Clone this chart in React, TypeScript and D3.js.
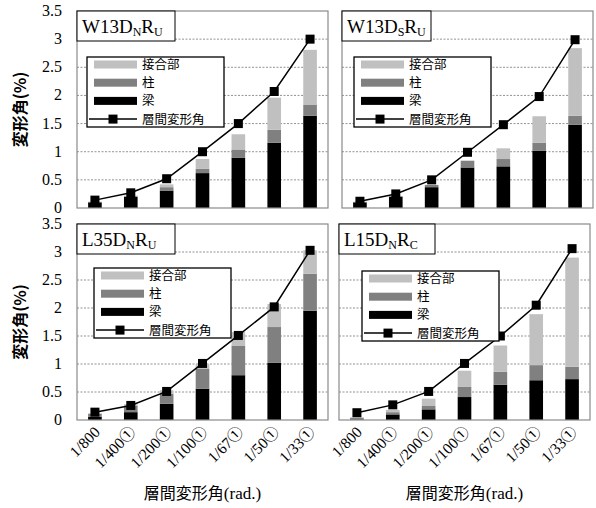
import React from "react";
import * as d3 from "d3";

const categories = ["1/800", "1/400①", "1/200①", "1/100①", "1/67①", "1/50①", "1/33①"];
const yTicks = [0, 0.5, 1, 1.5, 2, 2.5, 3, 3.5];
const seriesNames = ["梁", "柱", "接合部"];
const lineName = "層間変形角";

// W13DNRU
const p1Beam = [0.1, 0.2, 0.31, 0.62, 0.89, 1.16, 1.64];
const p1Col = [0.01, 0.01, 0.06, 0.08, 0.15, 0.23, 0.19];
const p1Joint = [0.0, 0.01, 0.05, 0.17, 0.27, 0.57, 0.98];
const p1Drift = [0.14, 0.27, 0.52, 1.0, 1.5, 2.07, 3.0];

// W13DSRU
const p2Beam = [0.1, 0.2, 0.37, 0.72, 0.74, 1.02, 1.48];
const p2Col = [0.01, 0.01, 0.04, 0.12, 0.13, 0.14, 0.16];
const p2Joint = [0.0, 0.0, 0.0, 0.0, 0.19, 0.47, 1.2];
const p2Drift = [0.12, 0.25, 0.5, 0.99, 1.48, 1.98, 2.99];

// L35DNRU
const p3Beam = [0.06, 0.14, 0.29, 0.56, 0.8, 1.02, 1.95];
const p3Col = [0.05, 0.12, 0.18, 0.36, 0.53, 0.64, 0.66];
const p3Joint = [0.01, 0.02, 0.06, 0.08, 0.24, 0.41, 0.42];
const p3Drift = [0.14, 0.26, 0.51, 1.01, 1.51, 2.02, 3.03];

// L15DNRC
const p4Beam = [0.01, 0.1, 0.19, 0.41, 0.63, 0.71, 0.73];
const p4Col = [0.03, 0.04, 0.06, 0.18, 0.23, 0.27, 0.22];
const p4Joint = [0.01, 0.04, 0.13, 0.29, 0.47, 0.91, 1.95];
const p4Drift = [0.13, 0.27, 0.51, 1.01, 1.5, 2.05, 3.06];

const colors = ["#000000", "#808080", "#c0c0c0"];
const SERIF = "'Liberation Serif', 'Times New Roman', 'Noto Sans CJK JP', serif";
const CJK = "'Noto Sans CJK JP', 'Liberation Serif', sans-serif";

type Panel = {
  main: string;
  sub1: string;
  mid: string;
  sub2: string;
  beam: number[];
  col: number[];
  joint: number[];
  drift: number[];
  x0: number;
  x1: number;
  y0: number;
  y1: number;
  titleW: number;
  legX: number;
  legY: number;
  left: boolean;
  bottom: boolean;
};

const panels: Panel[] = [
  { main: "W13D", sub1: "N", mid: "R", sub2: "U", beam: p1Beam, col: p1Col, joint: p1Joint, drift: p1Drift,
    x0: 77, x1: 328, y0: 11, y1: 208, titleW: 98, legX: 87, legY: 57, left: true, bottom: false },
  { main: "W13D", sub1: "S", mid: "R", sub2: "U", beam: p2Beam, col: p2Col, joint: p2Joint, drift: p2Drift,
    x0: 342, x1: 593, y0: 11, y1: 208, titleW: 89, legX: 354, legY: 57, left: false, bottom: false },
  { main: "L35D", sub1: "N", mid: "R", sub2: "U", beam: p3Beam, col: p3Col, joint: p3Joint, drift: p3Drift,
    x0: 77, x1: 328, y0: 224, y1: 420, titleW: 98, legX: 94, legY: 268, left: true, bottom: true },
  { main: "L15D", sub1: "N", mid: "R", sub2: "C", beam: p4Beam, col: p4Col, joint: p4Joint, drift: p4Drift,
    x0: 339, x1: 590, y0: 224, y1: 420, titleW: 96, legX: 362, legY: 271, left: false, bottom: true },
];

function PanelView({ p }: { p: Panel }) {
  const x = d3.scaleBand<string>().domain(categories).range([p.x0, p.x1]).paddingInner(0.62).paddingOuter(0.31);
  const y = d3.scaleLinear().domain([0, 3.5]).range([p.y1, p.y0]);
  const rows = categories.map((c, i) => ({ cat: c, beam: p.beam[i], col: p.col[i], joint: p.joint[i] }));
  const stack = d3.stack<any>().keys(["beam", "col", "joint"])(rows);
  const cx = (c: string) => (x(c) as number) + x.bandwidth() / 2;
  const line = d3.line<number>().x((_, i) => cx(categories[i])).y((d) => y(d));
  const ms = 9;
  const lx = p.legX;
  const ly = p.legY;
  const rowY = [ly + 7.5, ly + 25.7, ly + 43.9, ly + 62.1];
  return (
    <g>
      {yTicks.filter((t) => t > 0 && t < 3.5).map((t) => (
        <line key={t} x1={p.x0} x2={p.x1} y1={y(t)} y2={y(t)} stroke="#777" strokeWidth={0.8} strokeDasharray="2,1.5" />
      ))}
      {stack.map((s, si) => (
        <g key={si} fill={colors[si]}>
          {s.map((d, i) => (
            <rect key={i} x={x(categories[i])} width={x.bandwidth()} y={y(d[1])} height={Math.max(0, y(d[0]) - y(d[1]))} />
          ))}
        </g>
      ))}
      <rect x={p.x0} y={p.y0} width={p.x1 - p.x0} height={p.y1 - p.y0} fill="none" stroke="#8a8a8a" strokeWidth={1.2} />
      <path d={line(p.drift) || ""} fill="none" stroke="#000" strokeWidth={1.5} />
      {p.drift.map((v, i) => (
        <rect key={i} x={cx(categories[i]) - ms / 2} y={y(v) - ms / 2} width={ms} height={ms} fill="#000" />
      ))}
      <rect x={p.x0} y={p.y0} width={p.titleW} height={30} fill="#fff" stroke="#000" strokeWidth={1} />
      <text x={p.x0 + 5} y={p.y0 + 22} fontFamily={SERIF} fontSize={19}>
        {p.main}
        <tspan fontSize={12} dy={3}>{p.sub1}</tspan>
        <tspan dy={-3}>{p.mid}</tspan>
        <tspan fontSize={12} dy={3}>{p.sub2}</tspan>
      </text>
      <rect x={lx} y={ly} width={137} height={70} fill="#fff" stroke="#000" strokeWidth={1.3} />
      {[2, 1, 0].map((si, k) => (
        <g key={si}>
          <rect x={lx + 7} y={rowY[k] - 4} width={43} height={8} fill={colors[si]} />
          <text x={lx + 55} y={rowY[k] + 4.5} fontFamily={CJK} fontSize={12.5}>{seriesNames[si]}</text>
        </g>
      ))}
      <line x1={lx + 2} x2={lx + 50} y1={rowY[3]} y2={rowY[3]} stroke="#000" strokeWidth={1.5} />
      <rect x={lx + 26 - ms / 2} y={rowY[3] - ms / 2} width={ms} height={ms} fill="#000" />
      <text x={lx + 55} y={rowY[3] + 4.5} fontFamily={CJK} fontSize={12.5}>{lineName}</text>
      {p.left && yTicks.map((t) => (
        <text key={t} x={62} y={y(t) + 5} textAnchor="end" fontFamily={SERIF} fontSize={16}>{t}</text>
      ))}
      {p.left && (
        <text transform={`translate(26,${(p.y0 + p.y1) / 2}) rotate(-90)`} textAnchor="middle" fontFamily={CJK} fontSize={16} fontWeight="bold">
          変形角(%)
        </text>
      )}
      {p.bottom && categories.map((c) => (
        <text key={c} transform={`translate(${cx(c) + 6},${p.y1 + 13}) rotate(-45)`} textAnchor="end" fontFamily={SERIF} fontSize={15.5}>
          {c}
        </text>
      ))}
      {p.bottom && (
        <text x={(p.x0 + p.x1) / 2} y={499} textAnchor="middle" fontFamily={CJK} fontSize={16}>
          層間変形角<tspan fontFamily={SERIF} fontSize={17}>(rad.)</tspan>
        </text>
      )}
    </g>
  );
}

export default function App() {
  return (
    <svg width={596} height={508} style={{ position: "absolute", left: 0, top: 0, background: "#fff" }}>
      <rect width={596} height={508} fill="#fff" />
      {panels.map((p, i) => (
        <PanelView key={i} p={p} />
      ))}
    </svg>
  );
}
